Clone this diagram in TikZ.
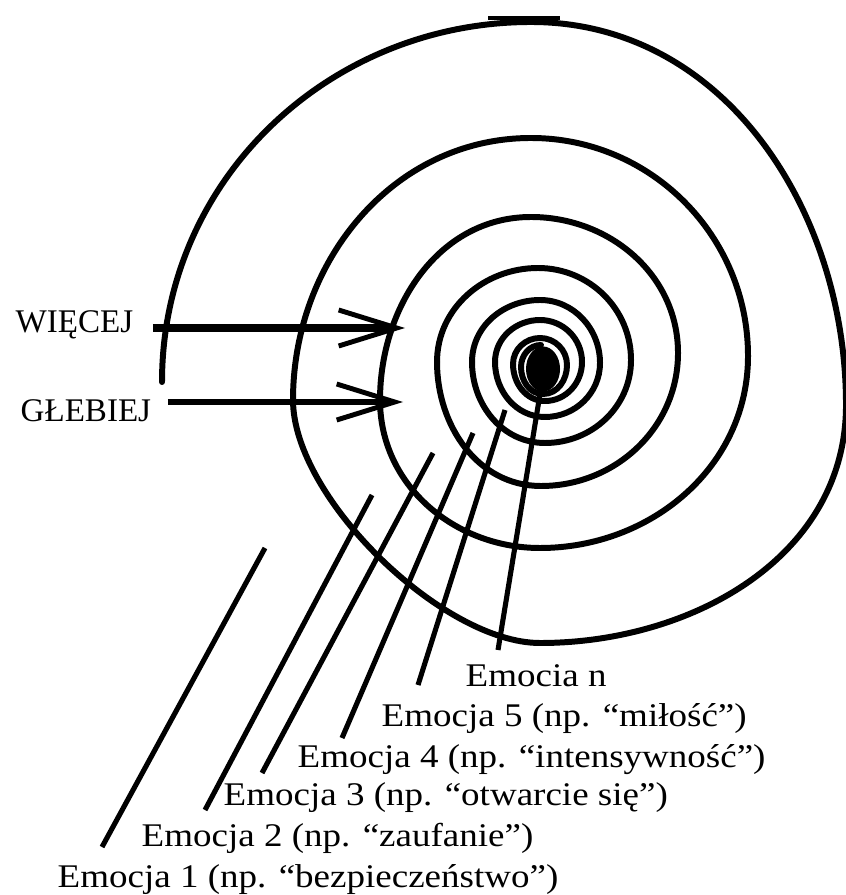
\documentclass[tikz,border=0pt]{standalone}
\usepackage{fontspec}
\setmainfont{Liberation Serif}
\newfontfamily\etiqfont{Liberation Serif}[FakeStretch=1.12]
\usetikzlibrary{arrows.meta,calc}

\begin{document}
\begin{tikzpicture}[x=0.01cm, y=0.01cm,
    espiral/.style={line width=1.7pt, line cap=round},
    guia/.style={line width=1.45pt},
    emocja/.style={anchor=base west, inner sep=0pt, font=\etiqfont\fontsize{9.4}{11}\selectfont},
    lado/.style={anchor=base west, inner sep=0pt, font=\fontsize{9.4}{11}\selectfont},
    flecha/.style={-{Straight Barb[length=0.58cm, width=0.36cm, line width=1.4pt]}}]
    \useasboundingbox (0,0) rectangle (845,-895);

    % Puntos extremos de la espiral (izq., arriba, der., abajo, ...)
    \foreach \x/\y [count=\i from 0] in {162/382, 531/22, 846/405, 540/643,
        293/400, 531/138, 748/356, 540/548, 380/400, 531/217, 678/353, 541/486,
        437/362, 538/268, 631/360, 545/443, 472/362, 540/300, 600/363, 545/417,
        495/362, 540/320, 582/362, 545/401, 513/364, 540/338, 567/365, 543/394,
        521/367, 541/345, 561/367}
        \coordinate (s\i) at (\x,-\y);

    % Espiral, un cuarto de vuelta por tramo
    \foreach \i in {0,...,28} {
        \pgfmathtruncatemacro\sig{\i+1}
        \pgfmathtruncatemacro\salida{90-90*mod(\i,4)}
        \pgfmathtruncatemacro\entrada{\salida+90}
        \pgfmathsetmacro\suelto{\i==3 ? 0.72 : 1}
        \draw[espiral] (s\i) to[out=\salida, in=\entrada, looseness=\suelto] (s\sig);
    }
    \fill (543,-369) ellipse [x radius=0.17cm, y radius=0.225cm];
    \draw[line width=1pt] (488,-18) -- (560,-18);

    % Flechas de la izquierda
    \node[lado] (wiecej) at (15,-333) {WIĘCEJ};
    \node[lado] (glebiej) at (20,-422) {GŁEBIEJ};
    \coordinate (pw) at (405,-328);
    \coordinate (pg) at (403,-402);
    \draw[flecha, line width=2.3pt] ($(wiecej.east |- pw)+(19,0)$) -- (pw);
    \draw[flecha, line width=1.85pt] ($(glebiej.east |- pg)+(16,0)$) -- (pg);

    % Emociones
    \node[emocja] (en) at (465,-686) {Emocia n};
    \node[emocja] (e5) at (381,-726) {Emocja 5 (np. “miłość”)};
    \node[emocja] (e4) at (297,-767) {Emocja 4 (np. “intensywność”)};
    \node[emocja] (e3) at (223,-805) {Emocja 3 (np. “otwarcie się”)};
    \node[emocja] (e2) at (141,-846) {Emocja 2 (np. “zaufanie”)};
    \node[emocja] (e1) at (57,-887) {Emocja 1 (np. “bezpieczeństwo”)};

    % Líneas guía hacia la espiral
    \coordinate (ce1) at (265,-548);
    \coordinate (ce2) at (372,-495);
    \coordinate (ce3) at (433,-453);
    \coordinate (ce4) at (473,-433);
    \coordinate (ce5) at (505,-410);
    \coordinate (cen) at (541,-388);
    \foreach \e/\dx/\dy in {e1/45/40, e2/64/36, e3/39/32, e4/45/29, e5/37/41, en/33/36}
        \draw[guia] ([shift={(\dx,\dy)}]\e.base west) -- (c\e);
\end{tikzpicture}
\end{document}
